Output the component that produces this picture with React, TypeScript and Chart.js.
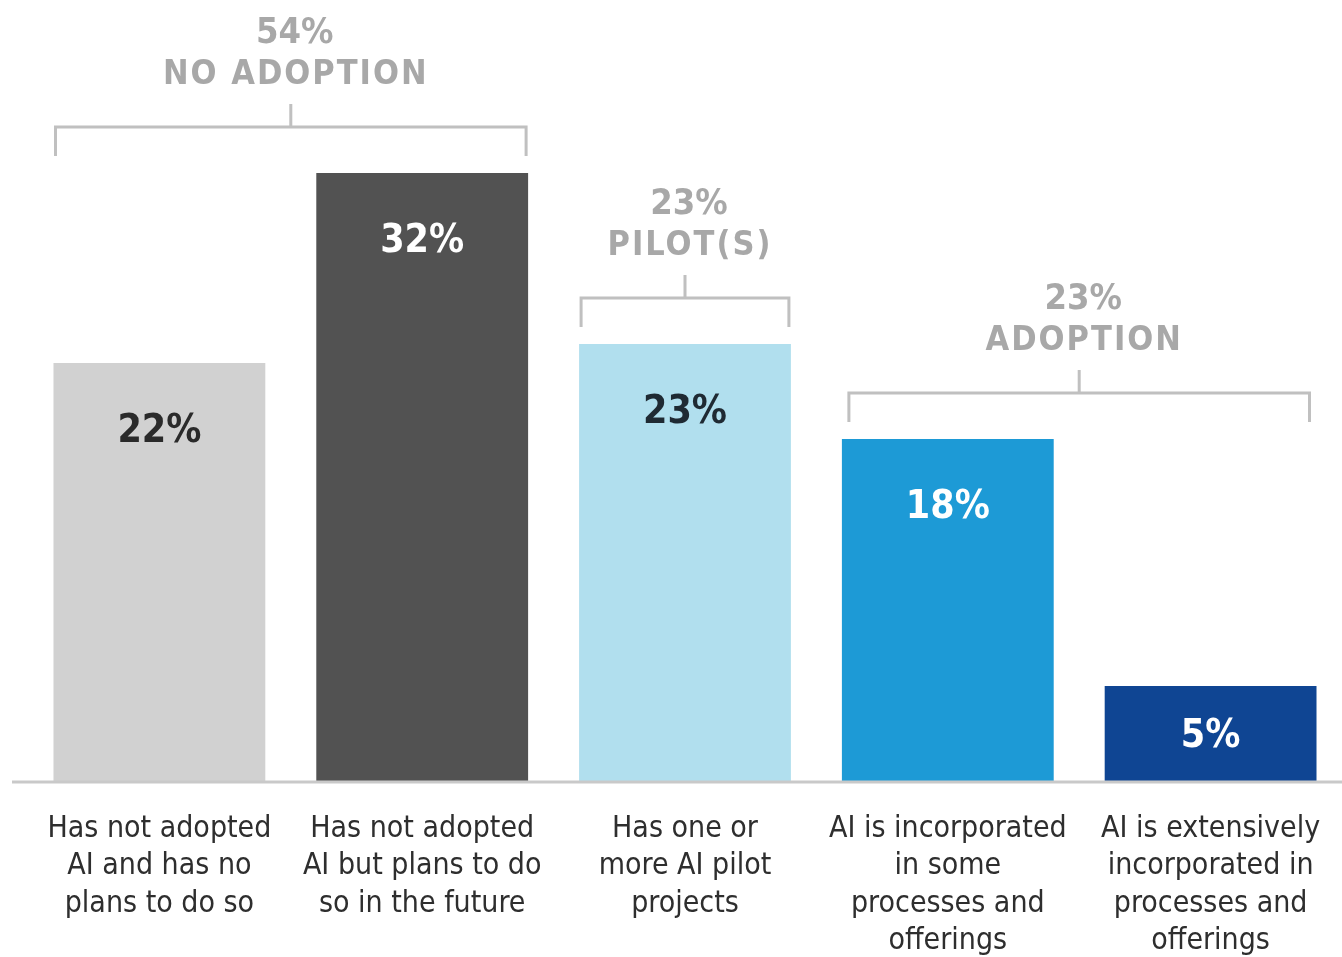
import React, { useEffect, useRef } from "react";
import { Chart, registerables } from "chart.js";

Chart.register(...registerables);

const categories: string[][] = [
  ["Has not adopted", "AI and has no", "plans to do so"],
  ["Has not adopted", "AI but plans to do", "so in the future"],
  ["Has one or", "more AI pilot", "projects"],
  ["AI is incorporated", "in some", "processes and", "offerings"],
  ["AI is extensively", "incorporated in", "processes and", "offerings"],
];
const values: number[] = [22, 32, 23, 18, 5];
const valueLabels: string[] = ["22%", "32%", "23%", "18%", "5%"];
const barColors: string[] = ["#d1d1d1", "#525252", "#b1dfee", "#1d9ad6", "#0f4593"];
const valueLabelColors: string[] = ["#2a2a2a", "#ffffff", "#1f2a33", "#ffffff", "#ffffff"];

const groupPercents: string[] = ["54%", "23%", "23%"];
const groupNames: string[] = ["NO ADOPTION", "PILOT(S)", "ADOPTION"];
const groupStart: number[] = [0, 2, 3];
const groupEnd: number[] = [1, 2, 4];

const FONT = '"Liberation Sans Narrow", "DejaVu Sans Condensed", "Roboto", sans-serif';

const overlayPlugin = {
  id: "overlay",
  afterDatasetsDraw(chart: any) {
    const ctx = chart.ctx;
    const meta = chart.getDatasetMeta(0);
    const yScale = chart.scales.y;
    const base = yScale.getPixelForValue(0);

    ctx.save();
    // axis line
    ctx.strokeStyle = "#c9c9c9";
    ctx.lineWidth = 3;
    ctx.beginPath();
    ctx.moveTo(12, base + 1);
    ctx.lineTo(chart.width, base + 1);
    ctx.stroke();

    // value labels
    ctx.font = `bold 39px ${FONT}`;
    ctx.textAlign = "center";
    ctx.textBaseline = "middle";
    meta.data.forEach((bar: any, i: number) => {
      ctx.fillStyle = valueLabelColors[i];
      const ly = Math.min(bar.y + 69, (bar.y + base) / 2 + 3);
      ctx.fillText(valueLabels[i], bar.x, ly);
    });

    // brackets
    for (let g = 0; g < groupNames.length; g++) {
      const b0 = meta.data[groupStart[g]];
      const b1 = meta.data[groupEnd[g]];
      const inset = groupEnd[g] > groupStart[g] + 0 && g === 2 ? 7 : 2;
      const left = b0.x - b0.width / 2 + inset;
      const right = b1.x + b1.width / 2 - inset;
      let top = Infinity;
      for (let k = groupStart[g]; k <= groupEnd[g]; k++) top = Math.min(top, meta.data[k].y);
      const yb = top - 46;
      const mid = (left + right) / 2;
      ctx.strokeStyle = "#c0c0c0";
      ctx.lineWidth = 3;
      ctx.beginPath();
      ctx.moveTo(left, yb + 29);
      ctx.lineTo(left, yb);
      ctx.lineTo(right, yb);
      ctx.lineTo(right, yb + 29);
      ctx.moveTo(mid, yb);
      ctx.lineTo(mid, yb - 23);
      ctx.stroke();

      ctx.fillStyle = "#a8a8a8";
      ctx.textAlign = "center";
      ctx.textBaseline = "middle";
      ctx.font = `bold 36px ${FONT}`;
      (ctx as any).letterSpacing = "0px";
      ctx.fillText(groupPercents[g], mid + 4, yb - 93);
      ctx.font = `bold 34px ${FONT}`;
      (ctx as any).letterSpacing = "2px";
      ctx.fillText(groupNames[g], mid + 5, yb - 52);
      (ctx as any).letterSpacing = "0px";
    }
    ctx.restore();
  },
};

export default function App() {
  const canvasRef = useRef<HTMLCanvasElement>(null);

  useEffect(() => {
    if (!canvasRef.current) return;
    const chart = new Chart(canvasRef.current, {
      type: "bar",
      data: {
        labels: categories,
        datasets: [
          {
            data: values,
            backgroundColor: barColors,
            borderWidth: 0,
            categoryPercentage: 1,
            barPercentage: 0.806,
          },
        ],
      },
      options: {
        animation: false,
        responsive: false,
        maintainAspectRatio: false,
        layout: { padding: { top: 21, left: 28, right: 0, bottom: 0 } },
        plugins: {
          legend: { display: false },
          tooltip: { enabled: false },
        },
        scales: {
          x: {
            offset: true,
            grid: { display: false },
            border: { display: false },
            afterFit: (scale: any) => {
              scale.paddingLeft = 0;
              scale.paddingRight = 0;
              scale.height = 176;
            },
            ticks: {
              color: "#2e2e2e",
              font: { family: FONT, size: 30, lineHeight: 1.25 },
              padding: 21,
              maxRotation: 0,
              autoSkip: false,
            },
          },
          y: {
            display: false,
            min: 0,
            max: 40,
          },
        },
      },
      plugins: [overlayPlugin],
    });
    return () => chart.destroy();
  }, []);

  return (
    <div style={{ position: "absolute", left: 0, top: 0, width: 1342, height: 957, background: "#fff" }}>
      <canvas ref={canvasRef} width={1342} height={957} style={{ width: 1342, height: 957, display: "block" }} />
    </div>
  );
}
